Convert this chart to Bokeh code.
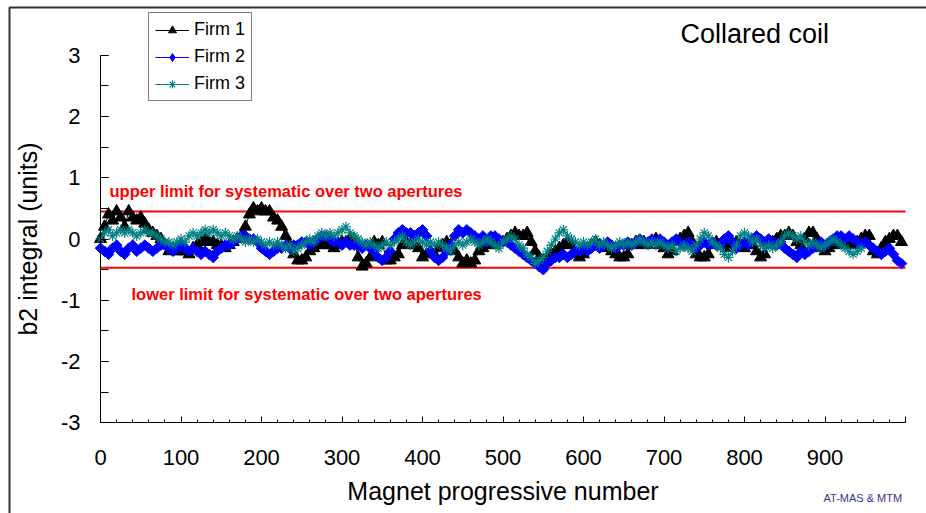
from bokeh.plotting import figure
from bokeh.models import (Label, Legend, LegendItem, FixedTicker)
from bokeh.embed import file_html
from bokeh.resources import INLINE

# ---------------- data ----------------
magnets_1 = list(range(0, 1000, 5))
firm_1 = [
    0.0, 0.2, 0.4, 0.3, 0.45, 0.35, 0.2, 0.45, 0.35, 0.3,
    0.35, 0.25, 0.15, 0.1, 0.05, 0.0, -0.1, -0.2, -0.15, -0.2,
    -0.2, -0.2, -0.25, -0.15, -0.1, -0.05, 0.0, -0.05, -0.05, -0.1,
    -0.1, -0.15, -0.1, -0.05, 0.0, 0.05, 0.2, 0.4, 0.5, 0.45,
    0.5, 0.45, 0.45, 0.35, 0.3, 0.2, 0.05, -0.1, -0.25, -0.35,
    -0.35, -0.3, -0.2, -0.15, -0.1, -0.1, -0.1, -0.1, -0.15, -0.1,
    -0.05, -0.05, 0.0, 0.0, -0.3, -0.45, -0.4, -0.3, -0.05, -0.1,
    -0.05, -0.35, -0.35, -0.3, -0.25, -0.1, -0.05, -0.1, -0.1, -0.15,
    -0.3, -0.25, -0.2, -0.25, -0.15, -0.1, -0.05, -0.1, -0.2, -0.3,
    -0.4, -0.35, -0.4, -0.35, -0.2, -0.15, -0.1, -0.1, -0.1, -0.05,
    -0.05, 0.0, 0.05, 0.1, 0.05, 0.05, 0.1, -0.05, -0.2, -0.3,
    -0.35, -0.3, -0.25, -0.2, -0.15, -0.1, -0.05, -0.1, -0.25, -0.3,
    -0.25, -0.15, -0.1, -0.05, -0.1, -0.15, -0.1, -0.2, -0.25, -0.3,
    -0.3, -0.25, -0.1, -0.05, -0.1, -0.05, -0.1, -0.05, 0.0, -0.1,
    -0.15, -0.25, -0.2, -0.05, 0.0, 0.05, 0.1, -0.05, -0.25, -0.3,
    -0.3, -0.25, -0.1, -0.05, -0.1, -0.1, -0.15, -0.1, -0.05, -0.1,
    -0.15, -0.1, -0.1, -0.2, -0.3, -0.25, -0.1, -0.05, 0.0, 0.05,
    0.05, 0.1, 0.05, -0.05, -0.1, 0.0, 0.1, 0.1, 0.0, -0.15,
    -0.2, -0.15, -0.1, -0.05, -0.1, -0.1, -0.05, -0.1, -0.05, 0.0,
    0.05, 0.05, -0.2, -0.25, -0.15, -0.05, 0.0, 0.05, 0.05, -0.05,
]

magnets_2 = list(range(0, 1000, 5))
firm_2 = [
    -0.15, -0.2, -0.25, -0.15, -0.1, -0.2, -0.25, -0.15, -0.1, -0.2,
    -0.15, -0.1, -0.15, -0.2, -0.15, -0.1, -0.1, -0.15, -0.2, -0.15,
    -0.1, -0.15, -0.2, -0.15, -0.2, -0.25, -0.2, -0.25, -0.3, -0.2,
    -0.15, -0.1, -0.1, -0.05, 0.0, 0.05, 0.05, 0.0, 0.0, -0.05,
    -0.15, -0.2, -0.25, -0.2, -0.15, -0.15, -0.1, -0.15, -0.1, -0.1,
    -0.05, -0.05, -0.1, -0.05, 0.0, 0.05, 0.05, 0.0, -0.05, -0.05,
    -0.1, -0.05, -0.1, -0.1, -0.1, -0.15, -0.1, -0.15, -0.2, -0.3,
    -0.35, -0.3, -0.2, 0.0, 0.1, 0.15, 0.1, 0.1, 0.05, 0.1,
    0.15, 0.05, -0.2, -0.3, -0.35, -0.3, -0.2, -0.1, 0.05, 0.15,
    0.1, 0.15, 0.1, 0.05, 0.0, 0.05, -0.05, 0.05, 0.05, 0.0,
    -0.05, -0.05, -0.1, -0.15, -0.2, -0.25, -0.3, -0.35, -0.4, -0.45,
    -0.5, -0.4, -0.35, -0.3, -0.3, -0.25, -0.3, -0.25, -0.2, -0.2,
    -0.15, -0.2, -0.15, -0.1, -0.15, -0.1, -0.05, -0.1, -0.15, -0.1,
    -0.1, -0.05, -0.1, -0.05, 0.0, -0.05, -0.05, 0.0, -0.05, 0.0,
    -0.05, -0.1, -0.05, 0.0, -0.05, -0.1, -0.05, -0.1, -0.15, -0.1,
    -0.05, -0.1, -0.05, -0.1, -0.1, 0.0, 0.05, -0.05, -0.15, -0.1,
    -0.05, -0.1, 0.0, 0.05, 0.0, -0.05, 0.0, -0.05, -0.1, -0.05,
    -0.15, -0.2, -0.25, -0.3, -0.2, -0.25, -0.2, -0.15, -0.1, -0.05,
    -0.1, -0.05, 0.0, 0.05, 0.05, 0.0, 0.05, 0.0, -0.05, -0.1,
    -0.05, -0.1, -0.15, -0.2, -0.25, -0.2, -0.15, -0.25, -0.35, -0.4,
]

magnets_3 = list(range(0, 950, 5))
firm_3 = [
    0.0, 0.1, 0.15, 0.05, 0.1, 0.15, 0.1, 0.15, 0.1, 0.05,
    0.1, 0.15, 0.1, 0.1, 0.05, 0.0, -0.05, -0.05, -0.1, -0.05,
    0.0, -0.05, 0.05, 0.1, 0.05, 0.1, 0.15, 0.1, 0.15, 0.1,
    0.05, 0.1, 0.05, 0.0, 0.05, 0.0, -0.05, 0.0, -0.05, 0.0,
    -0.05, -0.1, -0.05, -0.1, -0.05, -0.1, -0.15, -0.1, -0.2, -0.15,
    -0.1, -0.05, 0.0, -0.05, 0.05, 0.1, 0.05, 0.1, 0.05, 0.1,
    0.15, 0.2, 0.1, 0.05, 0.0, -0.05, -0.1, -0.05, -0.1, -0.15,
    -0.1, -0.05, -0.1, -0.05, 0.0, 0.05, -0.05, -0.1, -0.05, 0.0,
    -0.05, -0.1, -0.05, -0.1, -0.05, -0.1, -0.15, -0.2, -0.1, -0.05,
    -0.1, -0.05, 0.0, -0.05, -0.1, -0.05, 0.0, -0.05, -0.1, -0.15,
    -0.05, 0.0, 0.05, 0.0, -0.1, -0.15, -0.25, -0.3, -0.4, -0.35,
    -0.3, -0.2, -0.1, 0.0, 0.1, 0.15, 0.05, 0.0, -0.05, -0.1,
    -0.05, -0.1, -0.05, 0.0, -0.1, -0.05, -0.1, -0.15, -0.1, -0.05,
    -0.1, -0.05, -0.1, -0.05, 0.0, -0.05, -0.1, -0.05, -0.1, -0.05,
    -0.1, -0.15, -0.1, -0.2, -0.15, -0.1, -0.15, -0.2, -0.1, 0.0,
    0.1, 0.05, -0.05, -0.1, -0.15, -0.25, -0.3, -0.2, -0.1, 0.05,
    0.1, 0.05, -0.05, 0.0, -0.1, -0.15, -0.1, -0.15, -0.1, -0.05,
    0.05, 0.1, 0.05, 0.0, 0.05, -0.05, -0.1, -0.05, -0.1, -0.15,
    -0.1, -0.05, 0.0, -0.05, -0.1, -0.15, -0.2, -0.25, -0.2, -0.15,
]

series_names = ["Firm 1", "Firm 2", "Firm 3"]
upper_limit = 0.45
lower_limit = -0.47
x_tick_values = [0, 100, 200, 300, 400, 500, 600, 700, 800, 900, 1000]
x_tick_labels = ["0", "100", "200", "300", "400", "500", "600", "700", "800", "900", ""]
y_tick_values = [-3, -2, -1, 0, 1, 2, 3]
y_tick_labels = ["-3", "-2", "-1", "0", "1", "2", "3"]

FONT = "Liberation Sans"

# ---------------- layout (pixel geometry) ----------------
W, H = 926, 513
X0_PX, X_SCALE = 100.0, 0.805      # px of x=0, px per magnet
Y0_PX, Y_SCALE = 238.5, 61.333     # px of y=0, px per unit


def dx(px):
    return (px - X0_PX) / X_SCALE


def dy(py):
    return (Y0_PX - py) / Y_SCALE


p = figure(width=W, height=H, x_range=(dx(0), dx(W)), y_range=(dy(H), dy(0)),
           output_backend="svg", toolbar_location=None,
           min_border_left=0, min_border_right=0,
           min_border_top=0, min_border_bottom=0)
p.grid.visible = False
p.outline_line_color = None
p.background_fill_color = "white"
p.border_fill_color = "white"

# chart-area border (left and top edges visible)
p.line([dx(9), dx(9), dx(W + 5)], [dy(H + 5), dy(7), dy(7)],
       line_color="#333333", line_width=2)

# axes
xa = p.xaxis[0]
xa.fixed_location = -3
xa.bounds = (0, 1000)
xa.ticker = FixedTicker(ticks=x_tick_values,
                        minor_ticks=[v for v in range(0, 1001, 20)])
xa.major_label_overrides = {v: s for v, s in zip(x_tick_values, x_tick_labels)}
xa.major_tick_in = 6
xa.major_tick_out = 0
xa.minor_tick_in = 3
xa.minor_tick_out = 0
xa.major_label_standoff = 27
xa.major_label_text_font = FONT
xa.major_label_text_font_size = "22px"
xa.major_label_text_color = "black"
xa.axis_label = "Magnet progressive number"
xa.axis_label_text_font = FONT
xa.axis_label_text_font_size = "25px"
xa.axis_label_text_font_style = "normal"
xa.axis_label_text_color = "black"
xa.axis_label_standoff = 9
xa.axis_line_color = "black"
xa.major_tick_line_color = "black"
xa.minor_tick_line_color = "black"

ya = p.yaxis[0]
ya.fixed_location = 0
ya.bounds = (-3, 3)
ya.ticker = FixedTicker(ticks=y_tick_values,
                        minor_ticks=[-3, -2.5, -2, -1.5, -1, -0.5, 0, 0.5, 1, 1.5, 2, 2.5, 3])
ya.major_label_overrides = {v: s for v, s in zip(y_tick_values, y_tick_labels)}
ya.major_tick_in = 8
ya.major_tick_out = 0
ya.minor_tick_in = 8
ya.minor_tick_out = 0
ya.major_label_standoff = 20
ya.major_label_text_font = FONT
ya.major_label_text_font_size = "22px"
ya.major_label_text_color = "black"
ya.axis_label = "b2 integral (units)"
ya.axis_label_text_font = FONT
ya.axis_label_text_font_size = "25px"
ya.axis_label_text_font_style = "normal"
ya.axis_label_text_color = "black"
ya.axis_label_standoff = 16
ya.axis_line_color = "black"
ya.major_tick_line_color = "black"
ya.minor_tick_line_color = "black"

# limit lines
p.line([0, 1000], [upper_limit, upper_limit], line_color="#FF0000", line_width=2)
p.line([0, 1000], [lower_limit, lower_limit], line_color="#FF0000", line_width=2)

# series
l1 = p.line(magnets_1, firm_1, line_color="black", line_width=1)
s1 = p.scatter(magnets_1, firm_1, marker="triangle", size=12,
               fill_color="black", line_color="black")
l2 = p.line(magnets_2, firm_2, line_color="#0000FF", line_width=1)
s2 = p.scatter(magnets_2, firm_2, marker="square", size=7.5, angle=0.7854,
               fill_color="#0000FF", line_color="#0000FF")
# hidden copy used only as the legend key (diamond swatch)
s2_key = p.scatter(magnets_2, firm_2, marker="diamond", size=13,
                   fill_color="#0000FF", line_color="#0000FF", visible=False)
l3 = p.line(magnets_3, firm_3, line_color="#008080", line_width=1)
s3 = p.scatter(magnets_3, firm_3, marker="asterisk", size=10,
               line_color="#008080", line_width=1.2)

legend = Legend(items=[
    LegendItem(label=series_names[0], renderers=[l1, s1]),
    LegendItem(label=series_names[1], renderers=[l2, s2_key]),
    LegendItem(label=series_names[2], renderers=[l3, s3]),
], location=(148, H - 101))
legend.label_text_font = FONT
legend.label_text_font_size = "18px"
legend.label_text_color = "black"
legend.glyph_width = 34
legend.glyph_height = 20
legend.spacing = 6
legend.padding = 6
legend.margin = 0
legend.label_standoff = 5
legend.border_line_color = "black"
legend.border_line_width = 1
legend.background_fill_color = "white"
legend.background_fill_alpha = 1.0
legend.inactive_fill_alpha = 0.0
p.add_layout(legend)

# texts
p.add_layout(Label(x=dx(680), y=dy(33), text="Collared coil", text_font=FONT,
                   text_font_size="27px", text_color="black",
                   text_baseline="alphabetic"))
p.add_layout(Label(x=dx(109), y=dy(190), text="upper limit for systematic over two apertures",
                   text_font=FONT, text_font_size="16.5px", text_font_style="bold",
                   text_color="#FF0000", text_baseline="alphabetic"))
p.add_layout(Label(x=dx(131), y=dy(293), text="lower limit for systematic over two apertures",
                   text_font=FONT, text_font_size="16.5px", text_font_style="bold",
                   text_color="#FF0000", text_baseline="alphabetic"))
p.add_layout(Label(x=dx(823), y=dy(497), text="AT-MAS & MTM", text_font=FONT,
                   text_font_size="11px", text_color="#333399",
                   text_baseline="alphabetic"))

open("out.html", "w").write(file_html(p, INLINE))
